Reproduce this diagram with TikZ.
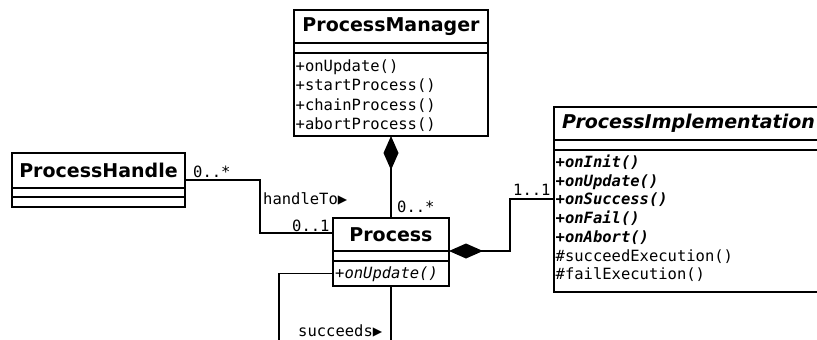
\documentclass[tikz,border=0pt]{standalone}
\usepackage{fontspec}
\setmainfont{DejaVu Sans}
\newfontfamily\monof{DejaVu Sans Mono}
\usetikzlibrary{arrows.meta}
\tikzset{
  box/.style={draw, line width=1.8pt, inner sep=0pt, outer sep=0pt, fill=white},
  ttl/.style={font=\fontsize{19}{22}\selectfont\bfseries},
  mth/.style={font=\monof\fontsize{15.5}{19}\selectfont, anchor=base west, inner sep=0pt},
  lbl/.style={font=\monof\fontsize{15.5}{19}\selectfont, anchor=base west, inner sep=0pt},
  conn/.style={line width=1.8pt},
  comp/.style={Diamond[length=34pt,width=15pt,fill=black]}
}
\begin{document}
\begin{tikzpicture}[x=1pt,y=-1pt]
\useasboundingbox[fill=white] (0,0) rectangle (817,340);
\begin{scope}
\clip (0,0) rectangle (817,340);
% ProcessManager
\node[box, ttl, anchor=north west, minimum width=194pt, minimum height=33pt] (pmt) at (294,10) {ProcessManager};
\node[box, anchor=north, minimum width=194pt, minimum height=10pt] (pma) at (pmt.south) {};
\node[box, anchor=north, minimum width=194pt, minimum height=83pt] (pmm) at (pma.south) {};
\node[mth] (pm1) at (295.5,71) {+onUpdate()};
\node[mth] (pm2) at (295.5,90.5) {+startProcess()};
\node[mth] (pm3) at (295.5,110) {+chainProcess()};
\node[mth] (pm4) at (295.5,129.5) {+abortProcess()};
% ProcessHandle
\node[box, ttl, anchor=north west, minimum width=173pt, minimum height=35pt] (pht) at (12,153) {ProcessHandle};
\node[box, anchor=north, minimum width=173pt, minimum height=9pt] (pha) at (pht.south) {};
\node[box, anchor=north, minimum width=173pt, minimum height=10pt] (phm) at (pha.south) {};
% Process
\node[box, ttl, anchor=north west, minimum width=116pt, minimum height=33pt] (prt) at (333,218) {Process};
\node[box, anchor=north, minimum width=116pt, minimum height=10pt] (pra) at (prt.south) {};
\node[box, anchor=north, minimum width=116pt, minimum height=25pt] (prm) at (pra.south) {};
\node[mth] (pr1) at (335,278) {\itshape +onUpdate()};
% ProcessImplementation
\node[box, ttl, anchor=north west, minimum width=269pt, minimum height=33pt] (pit) at (554,107) {\itshape ProcessImplementation};
\node[box, anchor=north, minimum width=269pt, minimum height=10pt] (pia) at (pit.south) {};
\node[box, anchor=north, minimum width=269pt, minimum height=142pt] (pim) at (pia.south) {};
\node[mth] (pi1) at (555.5,167.5) {\bfseries\itshape +onInit()};
\node[mth] (pi2) at (555.5,186.2) {\bfseries\itshape +onUpdate()};
\node[mth] (pi3) at (555.5,204.9) {\bfseries\itshape +onSuccess()};
\node[mth] (pi4) at (555.5,223.6) {\bfseries\itshape +onFail()};
\node[mth] (pi5) at (555.5,242.3) {\bfseries\itshape +onAbort()};
\node[mth] (pi6) at (555.5,261) {\#succeedExecution()};
\node[mth] (pi7) at (555.5,279.7) {\#failExecution()};
% connectors
\draw[conn, {Diamond[length=34pt,width=15pt,fill=black]}-] (pmm.south) -- (prt.north);
\draw[conn, {Diamond[length=34pt,width=15pt,fill=black]}-] (prt.south east) -- ++(61,0) |- ([yshift=-49pt]pim.north west);
\draw[conn] ([yshift=-27pt]pht.north east) -- ++(75,0) |- ([yshift=-15pt]prt.north west);
\coordinate (selfend) at (279,350);
\draw[conn] (prm.west) -| (selfend);
\draw[conn] (prm.south) -- (prm.south |- selfend);
% labels
\node[lbl] (l1) at (397,212) {0..*};
\node[lbl] (l2) at (513,195) {1..1};
\node[lbl] (l3) at (193,177) {0..*};
\node[lbl] (l4) at (263,204) {handleTo▶};
\node[lbl] (l5) at (292,231) {0..1};
\node[lbl] (l6) at (298,336.5) {succeeds▶};
\end{scope}
\end{tikzpicture}
\end{document}
